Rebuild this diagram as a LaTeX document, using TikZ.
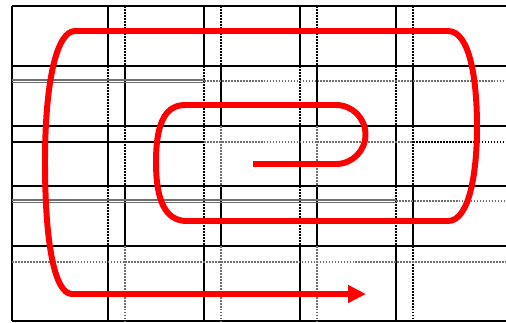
\documentclass[tikz,border=0pt]{standalone}
\usepackage{xcolor}
\usepackage{tikz}
\usetikzlibrary{arrows.meta}
\definecolor{spiralred}{HTML}{FF0000}
\definecolor{gridgrey}{HTML}{707070}
\tikzset{
  rule/.style={draw=black, line width=1.2pt},
  dotrule/.style={draw=black, line width=1.2pt, dash pattern=on 1pt off 0.7pt},
  greydot/.style={draw=gridgrey, line width=0.6pt, dash pattern=on 1pt off 0.7pt},
  greyrule/.style={draw=gridgrey, line width=0.7pt},
  thinrule/.style={draw=black, line width=0.7pt},
  spiral/.style={draw=spiralred, line width=3.4pt, line join=round, -{Triangle[length=0.36cm, width=0.34cm]}}
}

\begin{document}
\begin{tikzpicture}[x=0.02cm, y=-0.02cm]
  \useasboundingbox (0,0) rectangle (506,322);

  \foreach \y in {6,66,126,186,246,321}
    \draw[rule] (12,\y) -- (506,\y);
  \draw[rule] (12,6) -- (12,321);

  \foreach \x in {108,204,300,396} {
    \draw[rule] (\x,6) -- (\x,66);
    \draw[dotrule] (\x+17,6) -- (\x+17,66);
  }
  \foreach \t/\b in {66/126,186/246}
    \foreach \x in {108,204,300,396} {
      \draw[dotrule] (\x,\t) -- (\x,\b);
      \draw[rule] (\x+17,\t) -- (\x+17,\b);
    }
  \draw[rule] (108,126) -- (108,186);
  \draw[dotrule] (125,126) -- (125,186);
  \draw[dotrule] (204,126) -- (204,186);
  \draw[greydot] (221,126) -- (221,186);
  \draw[rule] (300,126) -- (300,186);
  \draw[greydot] (317,126) -- (317,186);
  \draw[rule] (396,126) -- (396,186);
  \draw[dotrule] (413,126) -- (413,186);
  \foreach \x in {108,204,300,396}
    \draw[rule] (\x,246) -- (\x,321);
  \foreach \x in {125,221,317}
    \draw[greydot] (\x,246) -- (\x,321);
  \draw[dotrule] (413,246) -- (413,321);

  \draw[greyrule] (12,80) -- (204,80);
  \draw[greyrule] (12,82.5) -- (204,82.5);
  \draw[greydot] (204,81) -- (506,81);
  \draw[thinrule] (12,142) -- (204,142);
  \draw[greydot] (204,142) -- (413,142);
  \draw[dotrule, line width=0.7pt] (413,142) -- (506,142);
  \draw[greyrule] (12,200) -- (396,200);
  \draw[greyrule] (12,202.5) -- (396,202.5);
  \draw[greydot] (396,201) -- (506,201);
  \draw[greydot] (12,262) -- (506,262);

  \coordinate (start) at (253,164);
  \coordinate (end) at (366,294);
  \draw[spiral] (start) -- (336,164)
    .. controls (352.3,164) and (365.5,150.8) .. (365.5,134.5)
    .. controls (365.5,118.2) and (352.3,105) .. (336,105)
    -- (185,105)
    .. controls (162,105) and (156,130) .. (156,162)
    .. controls (156,200) and (165,221) .. (187,221)
    -- (448,221)
    .. controls (470,221) and (477,170) .. (477,127)
    .. controls (477,80) and (470,31) .. (448,31)
    -- (75,31)
    .. controls (57,31) and (45,80) .. (45,162)
    .. controls (45,245) and (55,294) .. (72,294)
    -- (end);
\end{tikzpicture}
\end{document}
